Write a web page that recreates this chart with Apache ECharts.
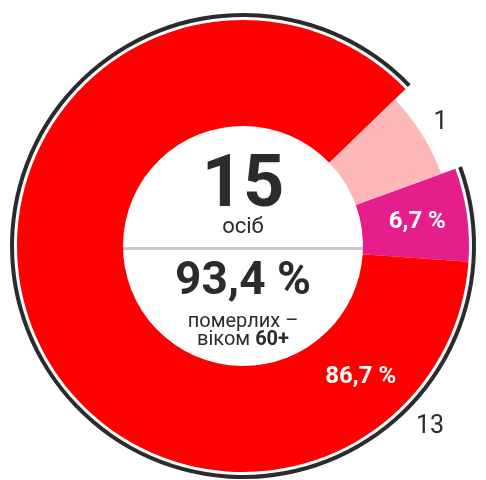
<!DOCTYPE html>
<html><head><meta charset="utf-8">
<script src="https://cdn.jsdelivr.net/npm/echarts@6/dist/echarts.min.js"></script>
<style>html,body{margin:0;padding:0;background:#fff}#c{width:486px;height:480px}</style>
</head><body><div id="c"></div>
<script>
// ---- data ----
const categories = ['молодше 60', '60+ (група Б)', '60+ (група А)'];
const values = [1, 1, 13];
const showPercent = [false, true, true];
const showCount = [true, false, true];
const totalLabel = '15';
const totalUnit = 'осіб';
const shareLabel = '93,4 %';
const shareText1 = 'померлих –';
const shareText2a = 'віком ';
const shareText2b = '60+';

// ---- style ----
const colors = ['#ffb8b8', '#e61e8c', '#ff0000'];
const ringColor = '#2b2b2b';
const textColor = '#2b2b2b';
const FONT = 'Roboto, "Noto Sans", sans-serif';
const CX = 243, CY = 246;
const total = values.reduce((a, b) => a + b, 0);
const pct = v => (v / total * 100).toFixed(1).replace('.', ',') + ' %';
function polar(angDeg, r) {
  const a = angDeg * Math.PI / 180;
  return { x: CX + r * Math.cos(a), y: CY - r * Math.sin(a) };
}

const chart = echarts.init(document.getElementById('c'), null, { renderer: 'canvas' });
chart.setOption({
  animation: false,
  backgroundColor: '#fff',
  series: [
    { // outer black ring (gap over the first category)
      type: 'pie', silent: true, center: [CX, CY], radius: [229, 233],
      startAngle: 44, clockwise: true, avoidLabelOverlap: false,
      label: { show: false }, labelLine: { show: false },
      data: values.map((v, i) => ({ name: categories[i], value: v,
        itemStyle: { color: i === 0 ? 'rgba(0,0,0,0)' : ringColor } }))
    },
    { // main ring
      type: 'pie', silent: true, center: [CX, CY], radius: [120, 226],
      startAngle: 44, clockwise: true, avoidLabelOverlap: false,
      labelLine: { show: false },
      data: values.map((v, i) => ({ name: categories[i], value: v,
        itemStyle: { color: i === 0 ? 'rgba(0,0,0,0)' : colors[i] },
        label: { show: showPercent[i], position: 'inside', formatter: () => pct(v),
          color: '#fff', fontFamily: FONT, fontWeight: 'bold', fontSize: 24 } })),
      labelLayout: p => {
        if (p.dataIndex === 2) { const q = polar(-48, 176); return { x: q.x, y: q.y, align: 'center', verticalAlign: 'middle' }; }
        return {};
      }
    },
    { // smaller first category + count labels
      type: 'pie', silent: true, center: [CX, CY], radius: [120, 211],
      startAngle: 44, clockwise: true, avoidLabelOverlap: false,
      labelLine: { show: false },
      data: values.map((v, i) => ({ name: categories[i], value: v,
        itemStyle: { color: i === 0 ? colors[0] : 'rgba(0,0,0,0)' },
        label: { show: showCount[i], position: 'inside', formatter: String(v),
          color: textColor, fontFamily: FONT, fontSize: 25 } })),
      labelLayout: p => {
        if (p.dataIndex === 0) { const q = polar(32, 233); return { x: q.x, y: q.y, align: 'center', verticalAlign: 'middle' }; }
        if (p.dataIndex === 2) { const q = polar(-44, 260); return { x: q.x, y: q.y, align: 'center', verticalAlign: 'middle' }; }
        return {};
      }
    }
  ],
  graphic: [
    { type: 'line', silent: true, shape: { x1: CX - 120, y1: 248.5, x2: CX + 120, y2: 248.5 },
      style: { stroke: '#c8c8c8', lineWidth: 3 } },
    { type: 'text', silent: true, x: CX, y: 188, style: { text: totalLabel, fill: textColor,
      font: 'bold 72px ' + FONT, textAlign: 'center', textVerticalAlign: 'middle' } },
    { type: 'text', silent: true, x: CX, y: 227, style: { text: totalUnit, fill: textColor,
      font: '22px ' + FONT, textAlign: 'center', textVerticalAlign: 'middle' } },
    { type: 'text', silent: true, x: CX, y: 282, style: { text: shareLabel, fill: textColor,
      font: 'bold 46px ' + FONT, textAlign: 'center', textVerticalAlign: 'middle' } },
    { type: 'text', silent: true, x: CX, y: 322, style: { text: shareText1, fill: textColor,
      font: '20px ' + FONT, textAlign: 'center', textVerticalAlign: 'middle' } },
    { type: 'text', silent: true, x: CX, y: 340, style: {
      text: '{a|' + shareText2a + '}{b|' + shareText2b + '}', fill: textColor,
      textAlign: 'center', textVerticalAlign: 'middle',
      rich: { a: { fontFamily: FONT, fontSize: 20, fill: textColor },
              b: { fontFamily: FONT, fontSize: 20, fontWeight: 'bold', fill: textColor } } } }
  ]
});
</script></body></html>
